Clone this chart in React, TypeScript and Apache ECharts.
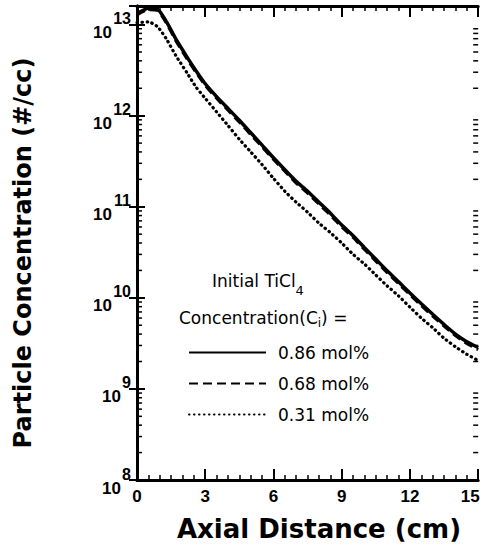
import React, { useEffect, useRef } from "react";
import * as echarts from "echarts";

// Axial distance (cm)
const axialDistance = [
  0, 0.5, 0.9, 1.3, 1.7, 2.2, 2.6, 3.0, 3.5, 4.0, 4.5, 5.0, 5.5, 6.0, 6.5, 7.0,
  7.5, 8.0, 8.5, 9.0, 9.5, 10.0, 10.5, 11.0, 11.5, 12.0, 12.5, 13.0, 13.5, 14.0,
  14.5, 15.0,
];

// Particle concentration (#/cc)
const conc086 = [
  1.32e13, 1.51e13, 1.48e13, 1.07e13, 7.0e12, 4.4e12, 3.1e12, 2.24e12, 1.62e12,
  1.2e12, 8.9e11, 6.5e11, 4.75e11, 3.45e11, 2.55e11, 1.9e11, 1.48e11, 1.12e11,
  8.5e10, 6.3e10, 4.8e10, 3.55e10, 2.65e10, 1.98e10, 1.5e10, 1.13e10, 8.6e9,
  6.6e9, 5.1e9, 4.0e9, 3.3e9, 2.85e9,
];
const conc068 = [
  1.28e13, 1.46e13, 1.43e13, 1.03e13, 6.7e12, 4.2e12, 2.97e12, 2.15e12, 1.55e12,
  1.15e12, 8.5e11, 6.2e11, 4.55e11, 3.3e11, 2.45e11, 1.82e11, 1.41e11, 1.07e11,
  8.1e10, 6.0e10, 4.6e10, 3.4e10, 2.53e10, 1.89e10, 1.43e10, 1.08e10, 8.2e9,
  6.3e9, 4.9e9, 3.85e9, 3.15e9, 2.7e9,
];
const conc031 = [
  1.05e13, 1.07e13, 9.5e12, 6.9e12, 4.6e12, 2.95e12, 2.05e12, 1.55e12, 1.1e12,
  7.8e11, 5.5e11, 4.0e11, 2.9e11, 2.05e11, 1.48e11, 1.12e11, 8.7e10, 6.6e10,
  5.2e10, 4.0e10, 3.0e10, 2.35e10, 1.78e10, 1.35e10, 1.05e10, 7.9e9, 6.0e9,
  4.7e9, 3.6e9, 2.9e9, 2.4e9, 2.05e9,
];

const seriesNames = ["0.86 mol%", "0.68 mol%", "0.31 mol%"];
const xTicks = [0, 3, 6, 9, 12, 15];
const yDecades = [8, 9, 10, 11, 12, 13];
const minorMultipliers = [2, 3, 4, 5, 6, 7, 8, 9];
const Y_MIN = 1e8;
const Y_MAX = 1.6e13;

export default function App() {
  const ref = useRef<HTMLDivElement>(null);

  useEffect(() => {
    document.body.style.margin = "0";
    if (!ref.current) return;
    const chart = echarts.init(ref.current, undefined, { renderer: "svg" });

    const minorTickValues: number[][] = [];
    yDecades.forEach((d) => {
      minorMultipliers.forEach((m) => {
        const v = m * Math.pow(10, d);
        if (v > Y_MIN && v < Y_MAX) minorTickValues.push([0, v]);
      });
    });

    const zip = (ys: number[]) => axialDistance.map((x, i) => [x, ys[i]]);

    const tickFont = "'Liberation Sans', Arial, sans-serif";
    const textFont = "'DejaVu Sans', sans-serif";
    const lastX = xTicks[xTicks.length - 1];

    const xAxisBase = {
      type: "value",
      min: xTicks[0],
      max: lastX,
      interval: 3,
      splitLine: { show: false },
      axisLine: { show: true, lineStyle: { color: "#000", width: 3 } },
      axisTick: { show: true, inside: true, length: 11, lineStyle: { color: "#000", width: 2 } },
      minorTick: { show: true, splitNumber: 6, length: 5, lineStyle: { color: "#000", width: 1.5 } },
      minorSplitLine: { show: false },
    };

    const yAxisBase = {
      type: "log",
      logBase: 10,
      min: Y_MIN,
      max: Y_MAX,
      splitLine: { show: false },
      axisLine: { show: true, lineStyle: { color: "#000", width: 3 } },
      axisTick: { show: true, inside: true, length: 8, lineStyle: { color: "#000", width: 2 } },
    };

    const boldTick = { fontFamily: tickFont, fontWeight: "bold", color: "#000" };

    chart.setOption({
      animation: false,
      backgroundColor: "#fff",
      grid: { left: 137, right: 8, top: 6, bottom: 69, containLabel: false },
      xAxis: [
        {
          ...xAxisBase,
          position: "bottom",
          axisLabel: {
            show: true,
            margin: 8,
            color: "#000",
            fontFamily: tickFont,
            fontWeight: "bold",
            fontSize: 17,
            formatter: (v: number) => (v === lastX ? `{a|${v}}{sp| }` : `${v}`),
            rich: {
              a: { ...boldTick, fontSize: 17 },
              sp: { ...boldTick, fontSize: 17, width: 16 },
            },
          },
        },
        {
          ...xAxisBase,
          position: "top",
          axisLabel: { show: false },
        },
      ],
      yAxis: [
        {
          ...yAxisBase,
          position: "left",
          axisLabel: {
            show: true,
            margin: 6,
            color: "#000",
            formatter: (v: number) => {
              const lg = Math.log10(v);
              const e = Math.round(lg);
              if (Math.abs(lg - e) > 1e-6 || !yDecades.includes(e)) return "";
              const gap = String(e).length > 1 ? "g2" : "g1";
              return `{s|${e}}\n{b|10}{${gap}| }`;
            },
            rich: {
              b: { ...boldTick, fontSize: 17, lineHeight: 12 },
              s: { ...boldTick, fontSize: 16, lineHeight: 16 },
              g1: { ...boldTick, fontSize: 16, lineHeight: 12, width: 10 },
              g2: { ...boldTick, fontSize: 16, lineHeight: 12, width: 19 },
            },
          },
        },
        {
          ...yAxisBase,
          position: "right",
          axisLabel: { show: false },
        },
      ],
      legend: {
        data: seriesNames,
        orient: "vertical",
        left: 188,
        top: 344,
        padding: 0,
        itemWidth: 77,
        itemHeight: 14,
        itemGap: 14,
        itemStyle: { opacity: 0 },
        textStyle: {
          fontFamily: textFont,
          fontSize: 17,
          color: "#000",
          padding: [0, 0, 0, 7],
        },
        selectedMode: false,
      },
      graphic: [
        {
          type: "text",
          x: 212,
          y: 264,
          style: {
            text: "Initial TiCl{sub|4}",
            fontFamily: textFont,
            fontSize: 17,
            fill: "#000",
            align: "left",
            verticalAlign: "top",
            rich: {
              sub: {
                fontFamily: textFont,
                fontSize: 13,
                fill: "#000",
                padding: [20, 0, 0, 0],
              },
            },
          },
        },
        {
          type: "text",
          x: 179,
          y: 307,
          style: {
            text: "Concentration(C{sub|i}) =",
            fontFamily: textFont,
            fontSize: 17,
            fill: "#000",
            align: "left",
            verticalAlign: "top",
            rich: {
              sub: {
                fontFamily: textFont,
                fontSize: 12,
                fill: "#000",
                padding: [10, 0, 0, 0],
              },
            },
          },
        },
        {
          type: "text",
          x: 23,
          y: 253,
          rotation: Math.PI / 2,
          style: {
            text: "Particle Concentration (#/cc)",
            fontFamily: textFont,
            fontWeight: "bold",
            fontSize: 24,
            fill: "#000",
            align: "center",
            verticalAlign: "middle",
          },
        },
        {
          type: "text",
          x: 319,
          y: 529,
          style: {
            text: "Axial Distance (cm)",
            fontFamily: textFont,
            fontWeight: "bold",
            fontSize: 26,
            fill: "#000",
            align: "center",
            verticalAlign: "middle",
          },
        },
      ],
      series: [
        {
          name: seriesNames[0],
          type: "line",
          data: zip(conc086),
          smooth: 0.2,
          symbol: "none",
          lineStyle: { color: "#000", width: 3.5, type: "solid" },
          itemStyle: { color: "#000" },
          z: 3,
        },
        {
          name: seriesNames[1],
          type: "line",
          data: zip(conc068),
          smooth: 0.2,
          symbol: "none",
          lineStyle: { color: "#000", width: 3, type: [9, 5] },
          itemStyle: { color: "#000" },
          z: 3,
        },
        {
          name: seriesNames[2],
          type: "line",
          data: zip(conc031),
          smooth: 0.2,
          symbol: "none",
          lineStyle: { color: "#000", width: 3.2, type: [0.5, 4.5], cap: "round" },
          itemStyle: { color: "#000" },
          z: 3,
        },
        {
          name: "minorTicks",
          type: "custom",
          silent: true,
          xAxisIndex: 0,
          yAxisIndex: 0,
          data: minorTickValues,
          renderItem: (params: any, api: any) => {
            const p = api.coord([0, api.value(1)]);
            const cs = params.coordSys;
            return {
              type: "group",
              children: [
                {
                  type: "line",
                  shape: { x1: cs.x, y1: p[1], x2: cs.x + 5, y2: p[1] },
                  style: { stroke: "#000", lineWidth: 1.5 },
                },
                {
                  type: "line",
                  shape: { x1: cs.x + cs.width - 5, y1: p[1], x2: cs.x + cs.width, y2: p[1] },
                  style: { stroke: "#000", lineWidth: 1.5 },
                },
              ],
            };
          },
          z: 2,
        },
      ],
    });

    return () => chart.dispose();
  }, []);

  return <div ref={ref} style={{ width: 493, height: 549 }} />;
}
